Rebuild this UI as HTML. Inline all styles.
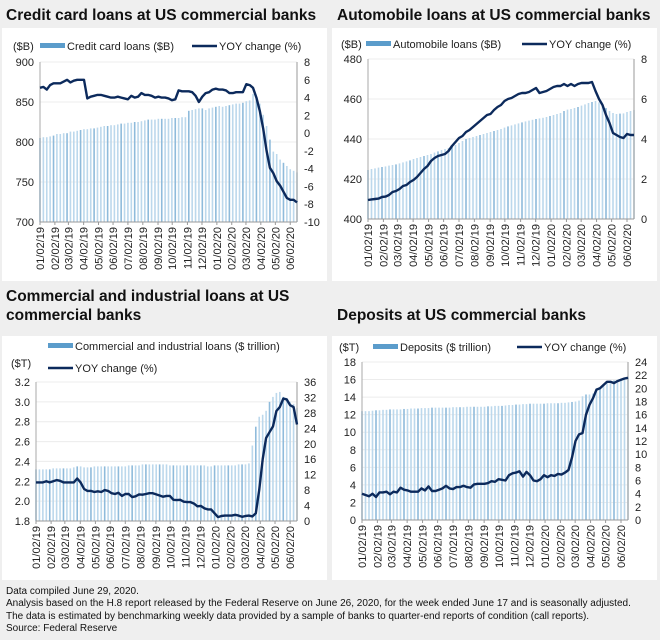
<!DOCTYPE html>
<html><head><meta charset="utf-8">
<style>
html,body{margin:0;padding:0;background:#efefef;}
body{width:660px;height:640px;position:relative;overflow:hidden;font-family:"Liberation Sans",sans-serif;}
.title{position:absolute;font-weight:bold;font-size:15.5px;color:#111;line-height:19px;}
.panel{position:absolute;background:#fff;}
svg{position:absolute;left:0;top:0;overflow:hidden;}
.note{position:absolute;left:6px;top:586px;font-size:10px;line-height:12.3px;color:#111;white-space:nowrap;}
</style></head>
<body>
<div class="title" style="left:6px;top:6px;">Credit card loans at US commercial banks</div>
<div class="title" style="left:337px;top:6px;">Automobile loans at US commercial banks</div>
<div class="title" style="left:6px;top:287px;">Commercial and industrial loans at US<br>commercial banks</div>
<div class="title" style="left:337px;top:306px;">Deposits at US commercial banks</div>
<div class="panel" style="left:2px;top:28px;width:325px;height:253px;"></div>
<div class="panel" style="left:332px;top:28px;width:325px;height:253px;"></div>
<div class="panel" style="left:2px;top:336px;width:325px;height:244px;"></div>
<div class="panel" style="left:332px;top:336px;width:325px;height:244px;"></div>
<svg id="chart" width="660" height="640"></svg>
<div class="note">Data compiled June 29, 2020.<br>Analysis based on the H.8 report released by the Federal Reserve on June 26, 2020, for the week ended June 17 and is seasonally adjusted.<br>The data is estimated by benchmarking weekly data provided by a sample of banks to quarter-end reports of condition (call reports).<br>Source: Federal Reserve</div>
<script>
const dateLabels = ["01/02/19","02/02/19","03/02/19","04/02/19","05/02/19","06/02/19","07/02/19","08/02/19","09/02/19","10/02/19","11/02/19","12/02/19","01/02/20","02/02/20","03/02/20","04/02/20","05/02/20","06/02/20"];
const labelWeeks = [0,4.4,8.4,12.9,17.3,21.6,26,30.4,34.9,39.1,43.6,47.9,52.3,56.7,60.9,65.3,69.6,74];

const creditBars = [805,806,806,807,808,810,810,811,811,813,813,814,815,
816,816,817,817,818,819,820,820,821,
821,822,823,823,824,824,825,825,826,
827,828,828,828,829,829,829,829,830,
830,830,831,831,839,840,841,842,842,
840,842,843,844,845,844,845,846,847,
848,848,849,851,852,860,855,848,834,
820,803,788,785,778,774,770,766,764,762];
const creditYoy = [5.1,5.2,4.9,5.4,5.6,5.6,5.6,5.8,6.0,5.7,5.9,6.0,6.0,
6.0,3.9,4.1,4.2,4.3,4.3,4.2,4.1,4.0,
4.0,4.1,4.0,3.9,3.8,4.2,4.0,4.1,4.5,
4.3,4.3,4.2,4.0,4.1,4.0,4.0,3.9,3.7,
3.8,4.8,4.7,4.7,4.7,4.6,4.2,3.5,4.1,
4.5,4.6,4.9,5.0,4.9,4.9,4.8,4.5,4.5,
4.6,4.6,4.6,5.5,5.4,5.1,4.0,2.5,0.5,
-2.0,-3.9,-4.5,-5.4,-5.9,-6.6,-7.3,-7.5,-7.5,-7.8];

const autoBars = [424.5,425,425.3,425.7,426,426.3,426.7,427,427.3,427.8,428.3,428.8,429.3,
430,430.5,431,431.5,432,432.5,433.2,433.8,434.5,
435,435.5,436,437,438,439,440,440.5,441,
441.5,442,442.5,443,443.5,444,444.5,445,445.7,
446.3,446.8,447.3,447.8,448.3,448.8,449.2,449.6,450,
450.3,450.6,451,451.5,452,452.5,453,454,454.7,
455,455.5,456,456.7,457.3,458,458.5,459,458.3,
457,455.5,454,453,452.5,452.7,452.8,453.5,454,454.5];
const autoYoy = [0.95,0.98,1.0,1.02,1.1,1.12,1.2,1.35,1.4,1.5,1.65,1.7,1.85,
1.95,2.1,2.3,2.5,2.65,2.9,3.05,3.15,3.2,
3.25,3.4,3.65,3.85,4.05,4.15,4.35,4.45,4.6,
4.75,4.9,5.05,5.2,5.25,5.45,5.6,5.7,5.9,
6.0,6.05,6.15,6.25,6.3,6.3,6.35,6.45,6.55,
6.3,6.35,6.4,6.5,6.6,6.65,6.65,6.75,6.65,
6.75,6.65,6.75,6.8,6.8,6.8,6.85,6.4,6.0,
5.7,5.2,4.8,4.3,4.2,4.1,4.05,4.25,4.2,4.2];

const ciBars = [2.32,2.32,2.32,2.32,2.32,2.33,2.33,2.33,2.33,2.33,2.33,2.34,2.35,
2.35,2.34,2.34,2.34,2.35,2.35,2.35,2.35,2.35,
2.35,2.35,2.35,2.35,2.35,2.36,2.36,2.36,2.36,
2.37,2.37,2.37,2.37,2.37,2.37,2.37,2.37,2.36,
2.36,2.36,2.36,2.36,2.36,2.36,2.36,2.36,2.36,
2.36,2.35,2.35,2.36,2.36,2.36,2.36,2.36,2.36,
2.36,2.37,2.37,2.37,2.38,2.56,2.75,2.85,2.87,
2.91,3.0,3.05,3.09,3.1,3.05,3.04,3.0,2.98,2.94];
const ciYoy = [10,10,10,10.3,10,10.3,10.6,10.4,10,10,10,10,11,
10,8.3,7.8,7.8,7.5,7.7,7.5,8.0,7.8,
7.2,7.0,7.3,6.5,7.0,7.0,6.2,6.4,6.9,
6.8,7.0,7.2,7.2,6.9,6.6,6.3,6.5,6.5,
5.5,5.4,5.5,5.0,4.9,4.9,4.5,3.8,3.9,
3.3,3.0,3.0,2.0,1.0,1.3,1.4,1.4,1.4,
1.6,1.4,1.1,1.3,1.4,1.2,2.0,8.0,16,
21.5,23,24.5,28.5,29.5,31.7,31.5,30,29.5,25];

const depBars = [12.4,12.4,12.4,12.45,12.5,12.5,12.55,12.55,12.6,12.6,12.6,12.6,12.65,
12.65,12.7,12.7,12.7,12.75,12.75,12.75,12.8,12.8,
12.8,12.8,12.8,12.8,12.85,12.85,12.85,12.85,12.9,
12.9,12.9,12.9,12.9,12.9,12.95,12.95,13,13,
13,13.05,13.1,13.1,13.15,13.15,13.2,13.2,13.25,
13.25,13.25,13.25,13.25,13.3,13.3,13.3,13.3,13.35,
13.35,13.4,13.45,13.5,13.6,14.1,14.3,14.3,14.4,
15.0,15.1,15.5,15.7,15.8,15.9,16.0,16.1,16.2,16.3];
const depYoy = [4.0,3.8,3.6,4.0,3.5,4.2,4.2,4.3,3.9,4.3,4.2,4.9,4.6,
4.5,4.3,4.3,4.3,4.8,4.5,5.1,4.4,4.4,
4.6,4.8,5.2,4.8,4.7,5.0,5.0,5.2,5.0,
4.9,5.4,5.5,5.5,5.5,5.6,5.9,5.8,6.2,
6.1,6.0,6.8,7.1,7.2,7.4,6.6,7.3,6.8,
6.0,5.9,6.2,6.8,6.5,6.8,6.7,7.0,6.9,
7.2,7.6,9.5,12.0,13.0,13.2,16,17.5,18.5,
19.8,20.0,20.5,21.0,21.0,20.8,21.1,21.3,21.5,21.6];

const creditLeftTicks = [700,750,800,850,900];
const creditRightTicks = [-10,-8,-6,-4,-2,0,2,4,6,8];
const autoLeftTicks = [400,420,440,460,480];
const autoRightTicks = [0,2,4,6,8];
const ciLeftTicks = [1.8,2.0,2.2,2.4,2.6,2.8,3.0,3.2];
const ciRightTicks = [0,4,8,12,16,20,24,28,32,36];
const depLeftTicks = [0,2,4,6,8,10,12,14,16,18];
const depRightTicks = [0,2,4,6,8,10,12,14,16,18,20,22,24];

const NS = "http://www.w3.org/2000/svg";
const svg = document.getElementById('chart');
function mk(tag, attrs, parent){
  const e = document.createElementNS(NS, tag);
  for (const k in attrs) e.setAttribute(k, attrs[k]);
  (parent||svg).appendChild(e);
  return e;
}
function txt(s, x, y, anchor, size, parent){
  const t = mk('text', {x:x, y:y, 'text-anchor':anchor, 'font-size':size, fill:'#222', 'font-family':'Liberation Sans, sans-serif'}, parent);
  t.textContent = s;
  return t;
}

function drawChart(cfg){
  const g = mk('g', {});
  
  
  const n = cfg.bars.length;
  const xs = i => cfg.x0 + (cfg.x1 - cfg.x0) * i / (n - 1);
  const yl = v => cfg.yb + (cfg.yt - cfg.yb) * (v - cfg.lmin) / (cfg.lmax - cfg.lmin);
  const yr = v => cfg.yb + (cfg.yt - cfg.yb) * (v - cfg.rmin) / (cfg.rmax - cfg.rmin);
  cfg.lt.forEach(v => {
    const l = mk('line', {x1:cfg.x0, x2:cfg.x1, y1:yl(v), y2:yl(v), stroke:'#ececec', 'stroke-width':1}, g);
    
    
    const t = txt(cfg.fmt(v), cfg.x0 - 6, yl(v) + 4, 'end', 11, g);
    
    
  });
  cfg.rt.forEach(v => {
    const t = txt(String(v), cfg.x1 + 7, yr(v) + 4, 'start', 11, g);
    
    
  });
  cfg.bars.forEach((v, i) => {
    const y = yl(v);
    const r = mk('rect', {x:xs(i) - 0.8, y:y, width:1.6, height:cfg.yb - y, fill: (i % 4 === 0) ? '#8fbbdb' : '#bcd8ec'}, g);
    
    
  });
  mk('line', {x1:cfg.x0, x2:cfg.x0, y1:cfg.yt, y2:cfg.yb, stroke:'#aaa', 'stroke-width':1}, g);
  mk('line', {x1:cfg.x1, x2:cfg.x1, y1:cfg.yt, y2:cfg.yb, stroke:'#bbb', 'stroke-width':1.5}, g);
  mk('line', {x1:cfg.x0, x2:cfg.x1, y1:cfg.yb, y2:cfg.yb, stroke:'#999', 'stroke-width':1}, g);
  const pts = cfg.yoy.map((v, i) => xs(i).toFixed(1) + ',' + yr(v).toFixed(1)).join(' ');
  const pl = mk('polyline', {points:pts, fill:'none', stroke:'#0c2a5c', 'stroke-width':2.4, 'stroke-linejoin':'round'}, g);
  
  
  dateLabels.forEach((s, k) => {
    const x = xs(labelWeeks[k]);
    mk('line', {x1:x, x2:x, y1:cfg.yb, y2:cfg.yb + 3, stroke:'#999'}, g);
    const t = txt(s, 0, 0, 'end', 11, g);
    t.setAttribute('transform', 'translate(' + (x + 4) + ',' + (cfg.yb + 5) + ') rotate(-90)');
    
    
  });
  const L = cfg.leg;
  const u = txt(L.unit[0], L.unit[1], L.unit[2], 'start', 11, g);
  
  
  const p = txt('(%)', L.pct[0], L.pct[1], 'end', 11, g);
  
  
  const sw = mk('rect', {x:L.bar[0], y:L.bar[1] - 7, width:25, height:5, fill:'#5b9ccb'}, g);
  
  
  const bt = txt(L.barText, L.bar[0] + 27, L.bar[1], 'start', 11, g);
  
  
  const ls = mk('line', {x1:L.line[0], x2:L.line[0] + 25, y1:L.line[1] - 4, y2:L.line[1] - 4, stroke:'#0c2a5c', 'stroke-width':2.5}, g);
  
  
  const lt = txt('YOY change (%)', L.line[0] + 27, L.line[1], 'start', 11, g);
  
  
}

drawChart({name:'credit-card-chart', bars:creditBars, yoy:creditYoy, x0:40, x1:297, yt:62, yb:222,
  lmin:700, lmax:900, rmin:-10, rmax:8, lt:creditLeftTicks, rt:creditRightTicks, fmt:v=>String(v),
  leg:{unit:['($B)',13,50], pct:['(%)',320,50], bar:[40,50], barText:'Credit card loans ($B)', line:[192,50]}});
drawChart({name:'auto-loans-chart', bars:autoBars, yoy:autoYoy, x0:368, x1:634, yt:59, yb:219,
  lmin:400, lmax:480, rmin:0, rmax:8, lt:autoLeftTicks, rt:autoRightTicks, fmt:v=>String(v),
  leg:{unit:['($B)',341,48], pct:['(%)',653,48], bar:[366,48], barText:'Automobile loans ($B)', line:[522,48]}});
drawChart({name:'ci-loans-chart', bars:ciBars, yoy:ciYoy, x0:36, x1:297, yt:382, yb:521,
  lmin:1.8, lmax:3.2, rmin:0, rmax:36, lt:ciLeftTicks, rt:ciRightTicks, fmt:v=>v.toFixed(1),
  leg:{unit:['($T)',11,367], pct:['(%)',320,367], bar:[48,350], barText:'Commercial and industrial loans ($ trillion)', line:[48,372]}});
drawChart({name:'deposits-chart', bars:depBars, yoy:depYoy, x0:362, x1:628, yt:362, yb:520,
  lmin:0, lmax:18, rmin:0, rmax:24, lt:depLeftTicks, rt:depRightTicks, fmt:v=>String(v),
  leg:{unit:['($T)',339,351], pct:['(%)',653,351], bar:[373,351], barText:'Deposits ($ trillion)', line:[517,351]}});
</script>
</body></html>
